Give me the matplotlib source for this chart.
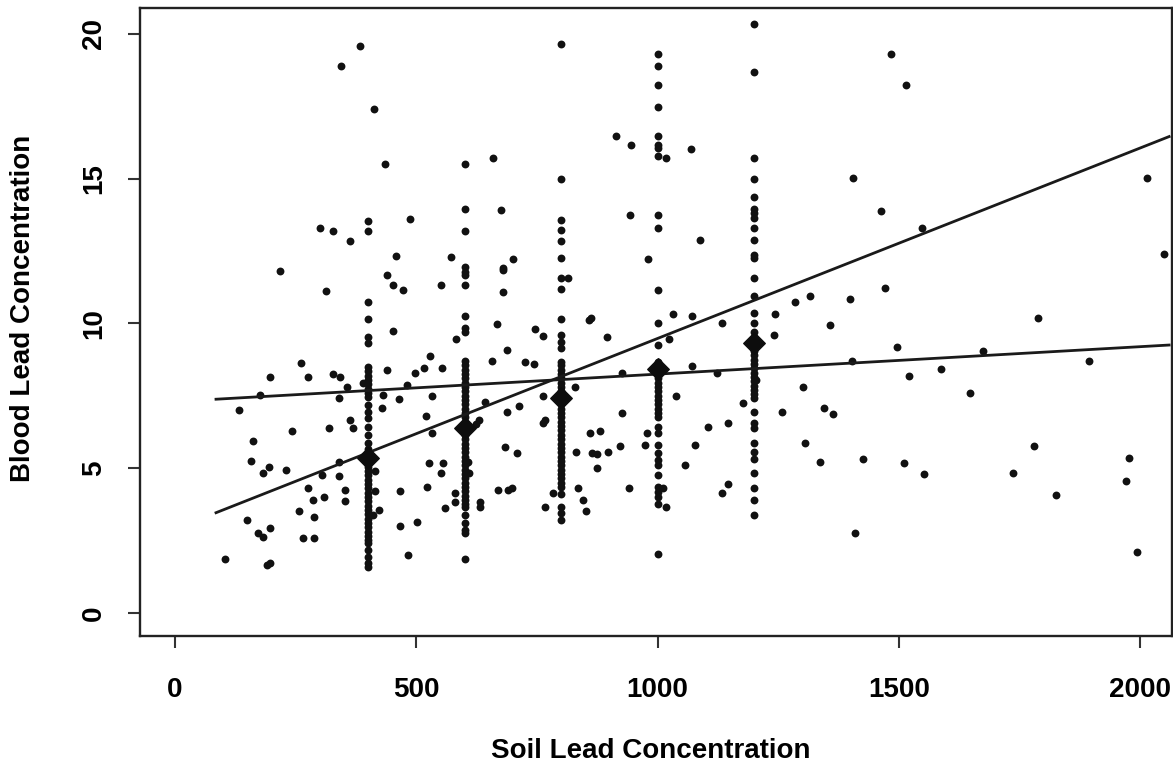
"""Blood lead vs soil lead scatter with two fitted lines"""

import numpy as np
import matplotlib
matplotlib.use("Agg")
import matplotlib.pyplot as plt

plt.rcParams['font.family'] = ['Liberation Sans', 'DejaVu Sans']
plt.rcParams['font.weight'] = 'bold'

# scattered observations (soil lead, blood lead)
soil = [383, 345, 413, 435, 300, 327, 363, 459, 218, 440, 452, 473, 313,
        452, 261, 196, 276, 328, 342, 439, 356, 390, 339, 432, 465, 480, 176,
        133, 430, 362, 369, 242, 319, 162, 157, 194, 182, 231, 304, 339, 339,
        415, 276, 309, 285, 352, 352, 415, 466, 258, 288, 411, 422, 466, 149,
        173, 183, 196, 265, 288, 104, 190, 196, 482,
        551, 679, 582, 667, 746, 762, 857, 863, 895, 689, 656, 725, 744, 528,
        497, 516, 553, 829, 926, 532, 642, 629, 624, 520, 687, 712, 763, 532,
        767, 763, 926, 860, 881, 684, 708, 831, 864, 874, 898, 922, 874, 527,
        555, 551, 607, 610, 523, 580, 580, 560, 632, 632, 670, 691, 698, 783,
        767, 836, 846, 852, 940, 502,
        913, 945, 1069, 1017, 943, 1088, 980, 1031, 1072, 1133, 1243, 1284,
        488, 676, 571, 700, 679, 679, 660, 815,
        1484, 1515, 1404, 2014, 1463, 1548, 2050, 1315, 1399, 1471, 1358, 1788,
        1496, 1402, 1675, 1893, 1522, 1588, 1647, 1301, 1345, 1363, 1306, 1337,
        1425, 1511, 1553, 1737, 1781, 1825, 1976, 1971, 1409, 1993,
        1023, 1242, 1071, 1123, 1038, 1178, 1258, 1145, 1105, 974, 1078, 1057,
        1012, 1018, 1145, 1133, 978, 1205]
blood = [19.6, 18.9, 17.4, 15.5, 13.3, 13.2, 12.86, 12.33, 11.8, 11.68, 11.33, 11.16, 11.13,
         9.74, 8.62, 8.16, 8.16, 8.25, 8.14, 8.39, 7.79, 7.93, 7.41, 7.53, 7.39, 7.87, 7.53,
         7.01, 7.07, 6.66, 6.38, 6.29, 6.38, 5.95, 5.25, 5.05, 4.82, 4.93, 4.76, 5.22, 4.73,
         4.91, 4.30, 4.01, 3.90, 4.24, 3.87, 4.22, 4.22, 3.53, 3.30, 3.38, 3.55, 3.0, 3.21,
         2.75, 2.63, 2.92, 2.59, 2.59, 1.87, 1.65, 1.71, 2.0,
         11.33, 11.1, 9.45, 9.97, 9.8, 9.57, 10.12, 10.18, 9.52, 9.08, 8.71, 8.68, 8.6, 8.88,
         8.30, 8.45, 8.45, 7.82, 8.28, 7.49, 7.30, 6.66, 6.52, 6.80, 6.95, 7.15, 7.49, 6.22,
         6.66, 6.55, 6.92, 6.22, 6.29, 5.74, 5.51, 5.57, 5.53, 5.49, 5.57, 5.76, 4.99, 5.17,
         5.17, 4.82, 5.22, 4.82, 4.36, 4.13, 3.84, 3.61, 3.84, 3.67, 4.24, 4.24, 4.30, 4.13,
         3.67, 4.30, 3.90, 3.53, 4.30, 3.15,
         16.46, 16.15, 16.03, 15.71, 13.73, 12.89, 12.23, 10.33, 10.26, 10.03, 10.33, 10.75,
         13.61, 13.92, 12.28, 12.23, 11.91, 11.83, 15.71, 11.56,
         19.31, 18.25, 15.02, 15.02, 13.9, 13.31, 12.39, 10.93, 10.84, 11.22, 9.95, 10.18,
         9.18, 8.71, 9.05, 8.70, 8.18, 8.42, 7.61, 7.79, 7.07, 6.86, 5.88, 5.22,
         5.30, 5.17, 4.80, 4.82, 5.76, 4.06, 5.34, 4.55, 2.75, 2.11,
         9.45, 9.60, 8.53, 8.30, 7.49, 7.24, 6.95, 6.57, 6.43, 5.80, 5.80, 5.11,
         4.30, 3.64, 4.45, 4.15, 6.2, 8.05]

# observations sitting on the five sampled soil levels
levels = [400, 600, 800, 1000, 1200]
blood_400 = [13.55, 13.2, 10.75, 10.15, 9.54, 9.31, 8.5, 8.35, 8.2, 8.05, 7.9, 7.75, 7.6,
             7.45, 7.18, 6.95, 6.72, 6.43, 6.14, 5.86, 5.65, 5.2, 5.05, 4.9, 4.75, 4.6,
             4.45, 4.3, 4.15, 4.0, 3.85, 3.7, 3.55, 3.4, 3.25, 3.1, 2.95, 2.8, 2.65,
             2.5, 2.41, 2.17, 1.94, 1.71, 1.58]
blood_600 = [15.5, 13.95, 13.2, 11.96, 11.77, 11.67, 11.33, 10.26, 9.83, 9.72, 8.7, 8.55,
             8.4, 8.25, 8.1, 7.95, 7.8, 7.65, 7.5, 7.35, 7.2, 7.05, 6.9, 6.75, 6.6, 6.45,
             6.3, 6.15, 6.0, 5.85, 5.7, 5.55, 5.4, 5.25, 5.1, 4.95, 4.8, 4.65, 4.5, 4.35,
             4.2, 4.05, 3.9, 3.75, 3.67, 3.38, 3.09, 2.86, 2.75, 1.85]
blood_800 = [19.65, 15.0, 13.58, 13.23, 12.86, 12.25, 11.56, 11.18, 10.16, 9.6, 9.37,
             9.14, 8.68, 8.55, 8.4, 8.25, 8.1, 7.95, 7.8, 7.65, 7.5, 7.35, 7.2, 7.05, 6.9,
             6.75, 6.6, 6.45, 6.3, 6.15, 6.0, 5.85, 5.7, 5.55, 5.4, 5.25, 5.1, 4.95, 4.8,
             4.65, 4.5, 4.36, 4.1, 3.67, 3.44, 3.21]
blood_1000 = [19.31, 18.9, 18.25, 17.47, 16.46, 16.15, 16.06, 15.77, 13.73, 13.29, 11.16,
              10.0, 9.26, 8.68, 8.55, 8.4, 8.25, 8.1, 7.95, 7.8, 7.65, 7.5, 7.35, 7.2,
              7.05, 6.9, 6.78, 6.43, 6.2, 5.80, 5.51, 5.28, 5.11, 4.76, 4.36, 4.18, 4.01,
              3.76, 2.05]
blood_1200 = [20.36, 18.67, 15.73, 15.0, 14.36, 13.95, 13.8, 13.64, 13.29, 12.89, 12.38,
              12.25, 11.58, 10.93, 10.35, 10.0, 9.72, 9.2, 9.05, 8.9, 8.75, 8.6, 8.45,
              8.3, 8.15, 8.0, 7.85, 7.7, 7.55, 7.41, 6.95, 6.55, 6.38, 5.86, 5.57, 5.30,
              4.82, 4.30, 3.90, 3.38]
level_means = [5.36, 6.37, 7.41, 8.41, 9.31]

# fitted lines: (intercept, slope) over the soil range
fit_steep = (2.9, 0.00658)
fit_flat = (7.30, 0.000948)
fit_range = [85, 2060]

fig = plt.figure(figsize=(11.73, 7.65), dpi=100)
ax = fig.add_axes([0.11935, 0.16863, 0.87980, 0.82026])

dot = dict(s=32, color='#111111', linewidths=0, zorder=2)
ax.scatter(soil, blood, **dot)
for lev, ys in zip(levels, [blood_400, blood_600, blood_800, blood_1000, blood_1200]):
    ax.scatter([lev] * len(ys), ys, **dot)

xs = np.array(fit_range)
for b0, b1 in [fit_steep, fit_flat]:
    ax.plot(xs, b0 + b1 * xs, color='#1a1a1a', lw=2.0, zorder=3)

ax.scatter(levels, level_means, marker='D', s=120, color='#0d0d0d', zorder=4)

ax.set_xlim(-72.5, 2066)
ax.set_ylim(-0.8, 20.88)
ax.set_xticks([0, 500, 1000, 1500, 2000])
ax.set_yticks([0, 5, 10, 15, 20])

for sp in ax.spines.values():
    sp.set_linewidth(1.7)
    sp.set_color('#222222')

ax.tick_params(axis='both', direction='out', length=8.5, width=1.5, color='#333333',
               labelsize=20)
ax.tick_params(axis='x', pad=21)
ax.tick_params(axis='y', pad=15)
for lab in ax.get_yticklabels():
    lab.set_rotation(90)
    lab.set_va('center')
    lab.set_fontweight('bold')
for lab in ax.get_xticklabels():
    lab.set_fontweight('bold')

ax.set_xlabel('Soil Lead Concentration', fontsize=20, fontweight='bold')
ax.set_ylabel('Blood Lead Concentration', fontsize=20, fontweight='bold')
ax.xaxis.set_label_coords(0.495, -0.184)
ax.yaxis.set_label_coords(-0.1134, 0.5216)
ax.xaxis.label.set_va('center')
ax.yaxis.label.set_va('center')

fig.savefig('out.png', dpi=100)
